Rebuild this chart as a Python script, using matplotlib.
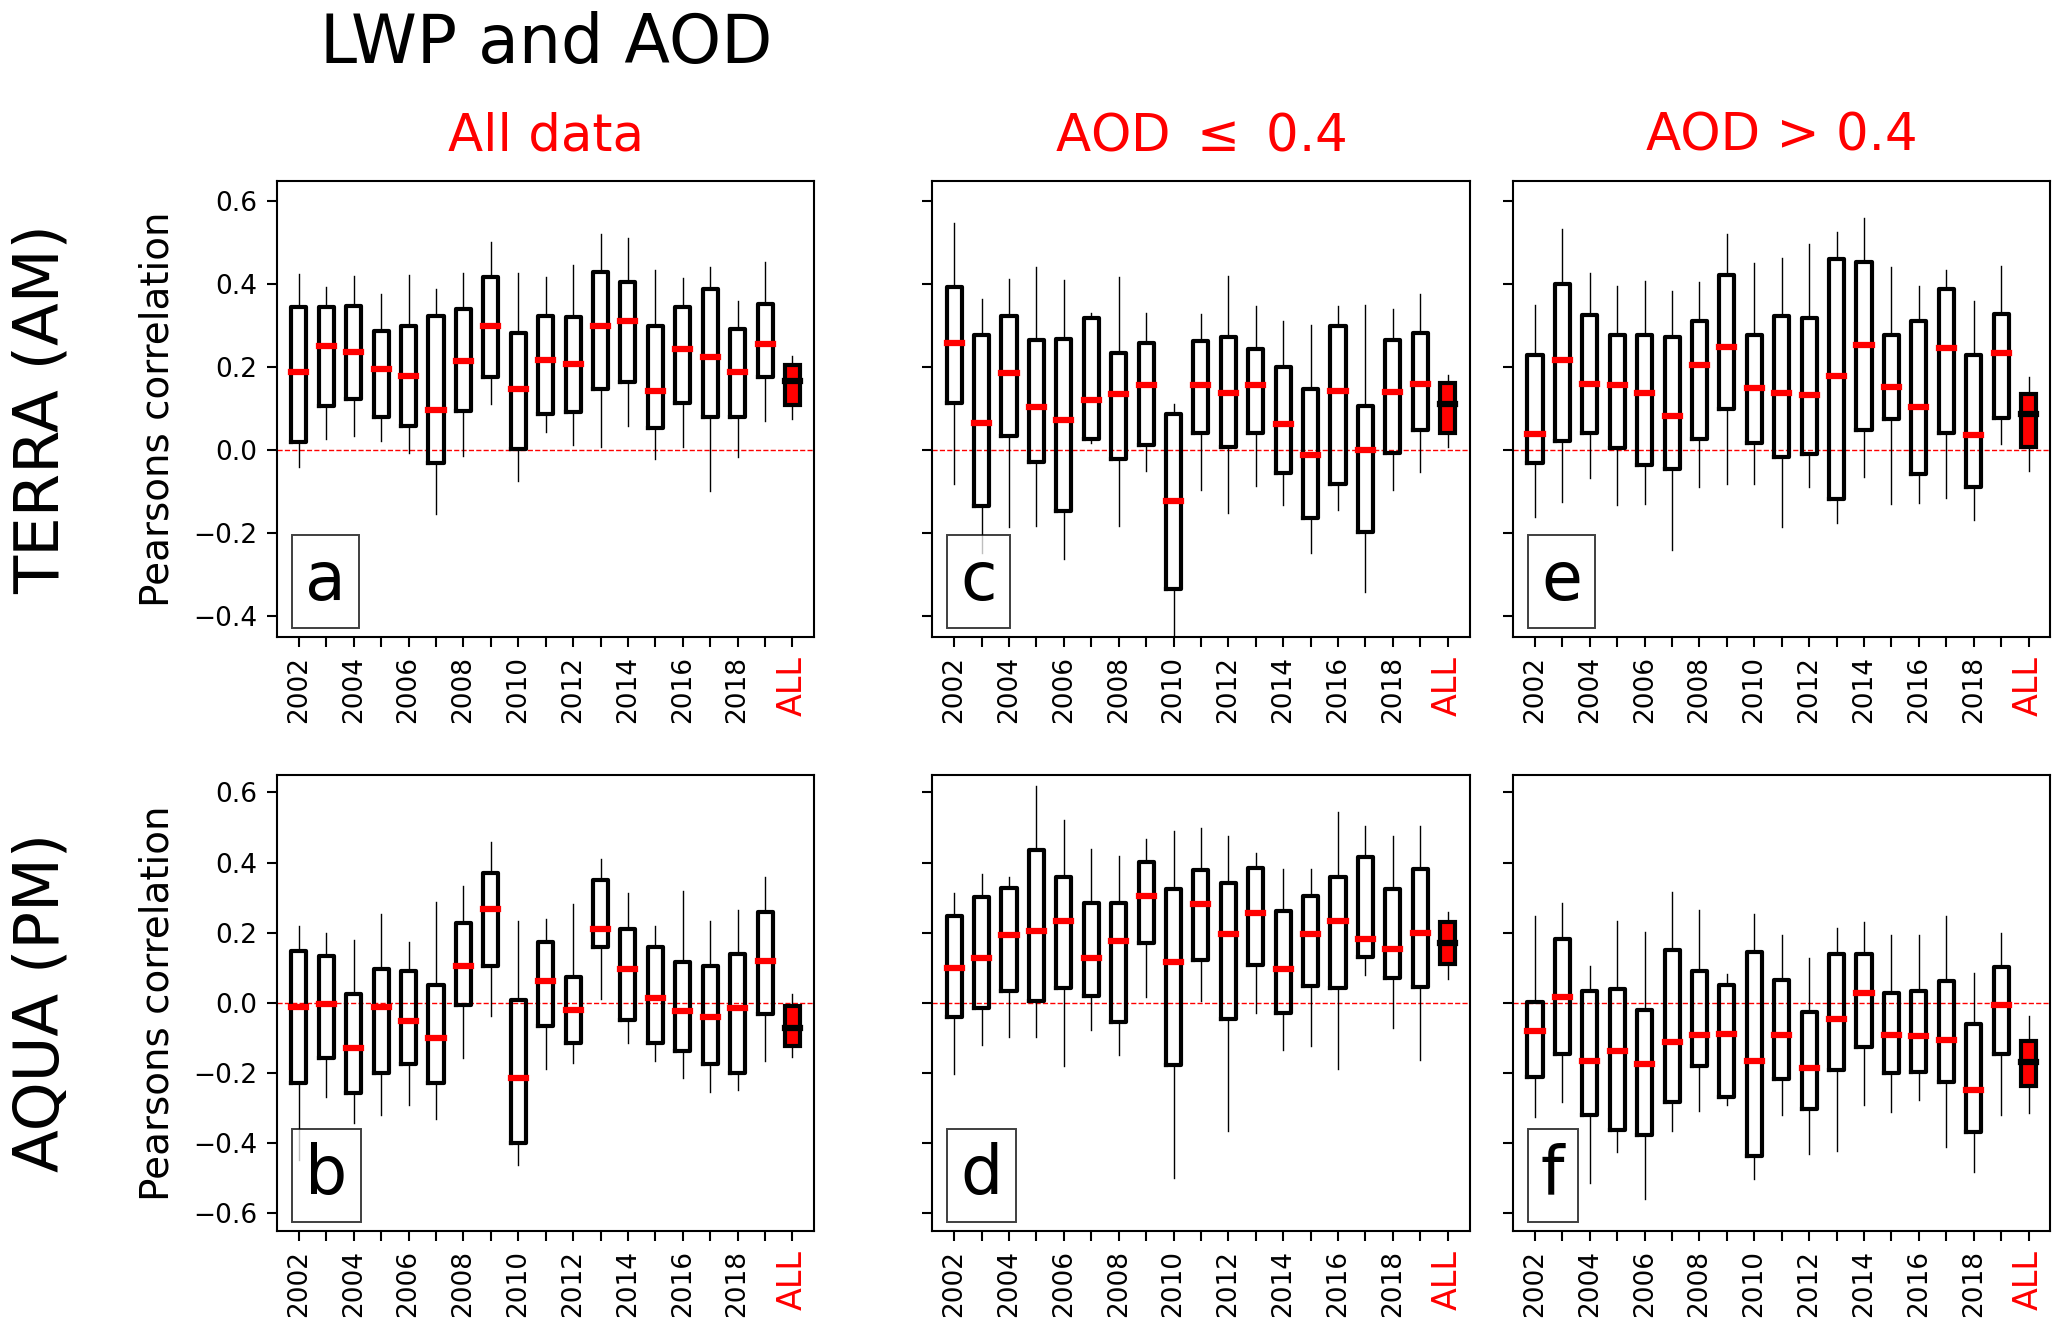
import matplotlib.pyplot as plt

years = list(range(2002, 2020))
tick_labels = [str(y) if y % 2 == 0 else '' for y in years] + ['ALL']

col_titles = ['All data', 'AOD $\\leq$ 0.4', 'AOD > 0.4']
row_titles = ['TERRA (AM)', 'AQUA (PM)']

# TERRA, all data (a)
a_hi = [0.424, 0.394, 0.42, 0.378, 0.422, 0.389, 0.428, 0.503, 0.427, 0.417, 0.448, 0.521, 0.511, 0.435, 0.416, 0.443, 0.361, 0.453, 0.228]
a_q3 = [0.345, 0.345, 0.348, 0.287, 0.301, 0.324, 0.342, 0.419, 0.282, 0.325, 0.322, 0.43, 0.407, 0.3, 0.345, 0.39, 0.292, 0.353, 0.206]
a_med = [0.188, 0.252, 0.236, 0.196, 0.179, 0.098, 0.216, 0.299, 0.148, 0.218, 0.207, 0.3, 0.313, 0.144, 0.244, 0.224, 0.188, 0.257, 0.167]
a_q1 = [0.021, 0.107, 0.123, 0.081, 0.059, -0.031, 0.095, 0.178, 0.004, 0.088, 0.093, 0.149, 0.164, 0.055, 0.113, 0.08, 0.08, 0.177, 0.109]
a_lo = [-0.039, 0.027, 0.035, 0.023, -0.006, -0.153, -0.013, 0.111, -0.073, 0.045, 0.012, 0.007, 0.058, -0.022, 0.009, -0.097, -0.015, 0.07, 0.075]

# TERRA, AOD <= 0.4 (c)
c_hi = [0.547, 0.364, 0.414, 0.443, 0.41, 0.33, 0.418, 0.33, 0.111, 0.329, 0.42, 0.348, 0.312, 0.302, 0.349, 0.35, 0.342, 0.376, 0.182]
c_q3 = [0.394, 0.277, 0.324, 0.267, 0.269, 0.32, 0.234, 0.258, 0.088, 0.263, 0.274, 0.245, 0.202, 0.148, 0.3, 0.108, 0.267, 0.284, 0.162]
c_med = [0.258, 0.065, 0.186, 0.104, 0.073, 0.122, 0.136, 0.157, -0.121, 0.157, 0.138, 0.157, 0.063, -0.011, 0.143, 0.002, 0.14, 0.159, 0.111]
c_q1 = [0.113, -0.134, 0.035, -0.029, -0.146, 0.027, -0.02, 0.014, -0.334, 0.042, 0.007, 0.043, -0.055, -0.162, -0.082, -0.198, -0.006, 0.05, 0.042]
c_lo = [-0.082, -0.247, -0.186, -0.182, -0.262, 0.018, -0.182, -0.049, -0.48, -0.096, -0.152, -0.086, -0.132, -0.247, -0.145, -0.341, -0.096, -0.053, 0.008]

# TERRA, AOD > 0.4 (e)
e_hi = [0.35, 0.533, 0.427, 0.397, 0.409, 0.383, 0.406, 0.521, 0.451, 0.464, 0.497, 0.527, 0.559, 0.441, 0.397, 0.435, 0.361, 0.445, 0.176]
e_q3 = [0.231, 0.401, 0.327, 0.279, 0.277, 0.273, 0.311, 0.423, 0.278, 0.324, 0.319, 0.462, 0.455, 0.279, 0.313, 0.388, 0.229, 0.329, 0.137]
e_med = [0.039, 0.218, 0.161, 0.157, 0.138, 0.082, 0.206, 0.25, 0.15, 0.138, 0.134, 0.18, 0.254, 0.153, 0.104, 0.247, 0.037, 0.235, 0.088]
e_q1 = [-0.031, 0.023, 0.043, 0.005, -0.036, -0.046, 0.027, 0.099, 0.017, -0.017, -0.009, -0.118, 0.05, 0.075, -0.057, 0.043, -0.088, 0.077, 0.009]
e_lo = [-0.16, -0.124, -0.067, -0.132, -0.129, -0.24, -0.088, -0.082, -0.082, -0.184, -0.088, -0.176, -0.065, -0.13, -0.128, -0.114, -0.168, 0.016, -0.049]

# AQUA, all data (b)
b_hi = [0.219, 0.2, 0.18, 0.253, 0.174, 0.288, 0.334, 0.459, 0.232, 0.238, 0.282, 0.409, 0.312, 0.218, 0.319, 0.233, 0.265, 0.358, 0.025]
b_q3 = [0.149, 0.135, 0.026, 0.097, 0.091, 0.052, 0.227, 0.371, 0.009, 0.173, 0.074, 0.35, 0.21, 0.158, 0.116, 0.106, 0.138, 0.258, -0.01]
b_med = [-0.012, -0.004, -0.128, -0.013, -0.052, -0.101, 0.104, 0.267, -0.215, 0.063, -0.021, 0.211, 0.096, 0.015, -0.023, -0.04, -0.015, 0.118, -0.072]
b_q1 = [-0.228, -0.158, -0.257, -0.2, -0.174, -0.229, -0.005, 0.105, -0.398, -0.067, -0.113, 0.159, -0.048, -0.114, -0.137, -0.174, -0.199, -0.031, -0.124]
b_lo = [-0.449, -0.269, -0.342, -0.32, -0.292, -0.331, -0.158, -0.036, -0.461, -0.188, -0.172, 0.01, -0.113, -0.166, -0.213, -0.253, -0.248, -0.166, -0.153]

# AQUA, AOD <= 0.4 (d)
d_hi = [0.314, 0.368, 0.359, 0.618, 0.521, 0.438, 0.418, 0.467, 0.489, 0.498, 0.475, 0.427, 0.382, 0.381, 0.545, 0.503, 0.475, 0.503, 0.26]
d_q3 = [0.249, 0.303, 0.327, 0.437, 0.359, 0.284, 0.284, 0.402, 0.324, 0.379, 0.341, 0.383, 0.261, 0.305, 0.358, 0.417, 0.325, 0.382, 0.231]
d_med = [0.1, 0.129, 0.193, 0.205, 0.234, 0.127, 0.177, 0.305, 0.117, 0.282, 0.197, 0.257, 0.096, 0.196, 0.232, 0.181, 0.154, 0.2, 0.172]
d_q1 = [-0.039, -0.014, 0.033, 0.004, 0.042, 0.019, -0.055, 0.17, -0.176, 0.121, -0.047, 0.108, -0.029, 0.048, 0.042, 0.132, 0.07, 0.045, 0.112]
d_lo = [-0.204, -0.12, -0.096, -0.098, -0.181, -0.077, -0.148, 0.016, -0.499, 0.005, -0.364, -0.029, -0.134, -0.124, -0.188, 0.08, -0.072, -0.162, 0.067]

# AQUA, AOD > 0.4 (f)
f_hi = [0.247, 0.285, 0.105, 0.232, 0.203, 0.317, 0.266, 0.083, 0.254, 0.194, 0.128, 0.213, 0.231, 0.194, 0.194, 0.248, 0.086, 0.199, -0.036]
f_q3 = [0.002, 0.181, 0.034, 0.041, -0.019, 0.151, 0.091, 0.051, 0.146, 0.064, -0.025, 0.139, 0.139, 0.029, 0.033, 0.063, -0.059, 0.101, -0.109]
f_med = [-0.08, 0.016, -0.165, -0.137, -0.173, -0.11, -0.091, -0.089, -0.165, -0.092, -0.186, -0.046, 0.029, -0.092, -0.094, -0.107, -0.247, -0.007, -0.167]
f_q1 = [-0.212, -0.147, -0.319, -0.362, -0.376, -0.283, -0.179, -0.269, -0.437, -0.217, -0.301, -0.19, -0.127, -0.201, -0.197, -0.225, -0.369, -0.145, -0.236]
f_lo = [-0.324, -0.283, -0.514, -0.424, -0.559, -0.366, -0.307, -0.291, -0.502, -0.319, -0.43, -0.421, -0.291, -0.31, -0.278, -0.411, -0.483, -0.318, -0.314]

panels = [
    [('a', a_lo, a_q1, a_med, a_q3, a_hi), ('c', c_lo, c_q1, c_med, c_q3, c_hi), ('e', e_lo, e_q1, e_med, e_q3, e_hi)],
    [('b', b_lo, b_q1, b_med, b_q3, b_hi), ('d', d_lo, d_q1, d_med, d_q3, d_hi), ('f', f_lo, f_q1, f_med, f_q3, f_hi)],
]

fig = plt.figure(figsize=(20.67, 13.34), dpi=100)

lefts = [0.134, 0.451, 0.732]
bottoms = [0.5225, 0.0772]
w, h = 0.260, 0.342

for r in range(2):
    for c in range(3):
        letter, lo, q1, med, q3, hi = panels[r][c]
        ax = fig.add_axes([lefts[c], bottoms[r], w, h])
        stats = []
        for i in range(len(med)):
            stats.append(dict(whislo=lo[i], q1=q1[i], med=med[i], q3=q3[i], whishi=hi[i]))
        pos = list(range(1, len(med) + 1))
        # yearly boxes
        ax.bxp(stats[:-1], positions=pos[:-1], widths=0.55, showfliers=False, showcaps=False,
               manage_ticks=False,
               boxprops=dict(color='black', linewidth=3.0),
               whiskerprops=dict(color='black', linewidth=1.0),
               medianprops=dict(color='red', linewidth=4.5, solid_capstyle='projecting'))
        # all years together
        ax.bxp(stats[-1:], positions=pos[-1:], widths=0.55, showfliers=False, showcaps=False,
               manage_ticks=False, patch_artist=True,
               boxprops=dict(facecolor='red', edgecolor='black', linewidth=3.0),
               whiskerprops=dict(color='black', linewidth=1.0),
               medianprops=dict(color='black', linewidth=4.5, solid_capstyle='projecting'))
        ax.axhline(0, color='red', ls='--', lw=1.0, zorder=0.5)

        ax.set_xlim(0.2, 19.8)
        if r == 0:
            ax.set_ylim(-0.45, 0.65)
            ax.set_yticks([-0.4, -0.2, 0.0, 0.2, 0.4, 0.6])
        else:
            ax.set_ylim(-0.65, 0.65)
            ax.set_yticks([-0.6, -0.4, -0.2, 0.0, 0.2, 0.4, 0.6])
        ax.set_xticks(pos)
        ax.set_xticklabels(tick_labels, rotation=90)
        ax.tick_params(labelsize=19, length=7, width=1.5, pad=7)
        all_lbl = ax.get_xticklabels()[-1]
        all_lbl.set_color('red')
        all_lbl.set_fontsize(24)
        if c > 0:
            ax.set_yticklabels([])
        else:
            ax.set_ylabel('Pearsons correlation', fontsize=28)
            ax.yaxis.set_label_coords(-0.187, 0.5)
        for sp in ax.spines.values():
            sp.set_linewidth(1.5)

        ax.text(0.052, 0.05, letter, transform=ax.transAxes, fontsize=48,
                ha='left', va='bottom',
                bbox=dict(boxstyle='square,pad=0.2', facecolor='white', edgecolor='black',
                          alpha=0.75, linewidth=1.4))

        if r == 0:
            ax.set_title(col_titles[c], color='red', fontsize=37, pad=22)

for r in range(2):
    fig.text(0.02, bottoms[r] + h / 2, row_titles[r], rotation=90, fontsize=45,
             ha='center', va='center')

fig.text(0.264, 0.953, 'LWP and AOD', ha='center', va='baseline', fontsize=48)

fig.savefig('out.png', dpi=100)
